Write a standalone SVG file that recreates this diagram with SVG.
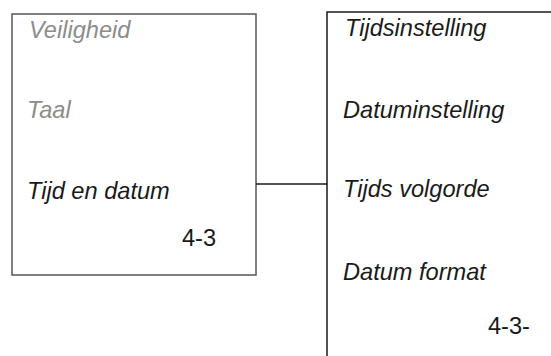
<svg xmlns="http://www.w3.org/2000/svg" width="551" height="356" viewBox="0 0 551 356">
<style>
text{font-family:"Liberation Sans",Arial,sans-serif;font-size:23.6px;font-style:italic;fill:#1a1a1a}
.dim{fill:#8c8c8c}
.num{font-style:normal}
.box{fill:none;stroke:#555;stroke-width:1.5}
.line{fill:none;stroke:#1a1a1a;stroke-width:1.5}
</style>
<rect width="551" height="356" fill="#fff"/>
<g id="menu">
<rect class="box" x="12" y="14" width="244" height="261"/>
<text class="dim" x="29" y="38">Veiligheid</text>
<text class="dim" x="27" y="118">Taal</text>
<text x="27" y="199">Tijd en datum</text>
<text class="num" x="182" y="246">4-3</text>
</g>
<g id="submenu">
<path class="line" d="M327 356V12H551"/>
<text x="345" y="36">Tijdsinstelling</text>
<text x="343" y="118">Datuminstelling</text>
<text x="343" y="197">Tijds volgorde</text>
<text x="343" y="280">Datum format</text>
<text class="num" x="488" y="334">4-3-</text>
</g>
<g id="connectors">
<path class="line" d="M256 184H327"/>
</g>
</svg>
